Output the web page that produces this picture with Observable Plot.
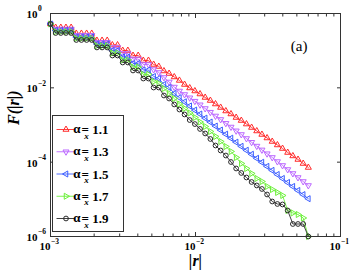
<!DOCTYPE html>
<html><head><meta charset="utf-8">
<script src="https://cdn.jsdelivr.net/npm/d3@7"></script>
<script src="https://cdn.jsdelivr.net/npm/@observablehq/plot@0.6"></script>
<style>body{margin:0;background:#fff;} #chart{position:relative;width:354px;height:275px;}</style>
</head><body><div id="chart"></div>
<script>
// |r| grid
const r = [0.001000,0.001085,0.001178,0.001278,0.001388,0.001506,0.001634,0.001774,0.001925,0.002090,
0.002268,0.002461,0.002671,0.002899,0.003147,0.003415,0.003707,0.004023,0.004366,0.004739,
0.005143,0.005582,0.006059,0.006576,0.007137,0.007746,0.008407,0.009124,0.009903,0.01075,
0.01166,0.01266,0.01374,0.01491,0.01619,0.01757,0.01907,0.02069,0.02246,0.02437,
0.02646,0.02871,0.03116,0.03382,0.03671,0.03984,0.04324,0.04693,0.05093,0.05528,0.06000];
// F(|r|) for each alpha_x
const F11 = [0.522,0.420,0.420,0.420,0.420,0.290,0.290,0.290,0.290,0.188,0.188,0.188,0.142,0.142,0.101,0.101,0.0741,0.0741,0.0544,0.0544,
0.0425,0.0375,0.0284,0.0243,0.0196,0.0158,0.0123,0.00991,0.00822,0.00682,0.00550,0.00456,0.00367,0.00296,0.00238,0.00198,0.00159,0.00132,0.00106,8.57e-4,
6.90e-4,5.56e-4,4.47e-4,3.60e-4,2.90e-4,2.33e-4,1.82e-4,1.47e-4,1.18e-4,9.20e-5,7.19e-5];
const F13 = [0.522,0.383,0.383,0.383,0.383,0.259,0.259,0.259,0.259,0.168,0.168,0.168,0.122,0.122,0.0839,0.0839,0.0597,0.0597,0.0425,0.0425,
0.0311,0.0259,0.0190,0.0144,0.0105,0.00822,0.00662,0.00540,0.00438,0.00350,0.00278,0.00221,0.00175,0.00141,0.00111,8.83e-4,6.98e-4,5.56e-4,4.34e-4,3.43e-4,
2.71e-4,2.14e-4,1.69e-4,1.34e-4,1.04e-4,8.15e-5,6.35e-5,4.96e-5,3.87e-5,3.02e-5,2.36e-5];
const F15 = [0.522,0.349,0.349,0.349,0.349,0.233,0.233,0.233,0.233,0.151,0.151,0.151,0.101,0.101,0.0676,0.0676,0.0452,0.0452,0.0302,0.0302,
0.0202,0.0178,0.0123,0.0102,0.00705,0.00543,0.00421,0.00325,0.00252,0.00197,0.00153,0.00120,9.35e-4,7.30e-4,5.66e-4,4.42e-4,3.45e-4,2.67e-4,2.09e-4,1.63e-4,
1.27e-4,9.93e-5,7.70e-5,6.01e-5,4.66e-5,3.64e-5,2.84e-5,2.22e-5,1.73e-5,1.34e-5,1.04e-5];
const F17 = [0.522,0.322,0.322,0.322,0.322,0.213,0.213,0.213,0.213,0.135,0.135,0.135,0.0865,0.0865,0.0561,0.0561,0.0364,0.0364,0.0229,0.0229,
0.0148,0.0131,0.00959,0.00705,0.00516,0.00367,0.00278,0.00210,0.00159,0.00120,9.12e-4,6.69e-4,4.91e-4,3.60e-4,2.64e-4,1.94e-4,1.34e-4,9.20e-5,6.76e-5,4.96e-5,
3.64e-5,3.02e-5,2.22e-5,1.84e-5,1.53e-5,1.27e-5,5.01e-6,4.30e-6,3.91e-6,3.15e-6,1.0e-6];
const F19 = [0.522,0.299,0.299,0.299,0.299,0.194,0.194,0.194,0.194,0.122,0.122,0.122,0.0741,0.0741,0.0481,0.0481,0.0293,0.0293,0.0178,0.0178,
0.0102,0.0102,0.00622,0.00516,0.00357,0.00261,0.00192,0.00136,0.00106,7.82e-4,5.92e-4,4.21e-4,2.81e-4,2.06e-4,1.51e-4,1.01e-4,6.76e-5,5.12e-5,3.87e-5,2.93e-5,
2.36e-5,1.90e-5,1.35e-5,8.75e-6,7.50e-6,7.28e-6,5.01e-6,2.17e-6,2.17e-6,2.17e-6,1.0e-6];

const alphaLabels = ["1.1","1.3","1.5","1.7","1.9"];
const seriesValues = [F11, F13, F15, F17, F19];
const seriesColors = ["#ff2a2a","#bb66ff","#3a5cff","#6cf03a","#2a2a2a"];
const xMajor = [1e-3, 1e-2, 1e-1];
const xExp = ["\u22123","\u22122","\u22121"];
const xMinor = [2e-3,3e-3,4e-3,5e-3,6e-3,7e-3,8e-3,9e-3,2e-2,3e-2,4e-2,5e-2,6e-2,7e-2,8e-2,9e-2];
const yMajor = [1, 1e-2, 1e-4, 1e-6];
const yExp = ["0","\u22122","\u22124","\u22126"];

// marker shapes
const h = 0.866;
const mk = (pts) => ({draw(ctx, size){ const s = Math.sqrt(size/Math.PI)*1.25; ctx.moveTo(pts[0][0]*s, pts[0][1]*s); for (let i=1;i<pts.length;i++) ctx.lineTo(pts[i][0]*s, pts[i][1]*s); ctx.closePath(); }});
const symUp = mk([[0,-1],[h,0.5],[-h,0.5]]);
const symDown = mk([[0,1],[h,-0.5],[-h,-0.5]]);
const symLeft = mk([[-1,0],[0.5,-h],[0.5,h]]);
const symRight = mk([[1,0],[-0.5,-h],[-0.5,h]]);
const symCircle = {draw(ctx,size){ const s=Math.sqrt(size/Math.PI)*0.85; ctx.moveTo(s,0); ctx.arc(0,0,s,0,2*Math.PI); }};
const symbols = [symUp, symDown, symLeft, symRight, symCircle];
const markR = 2.8;

const table = [];
seriesValues.forEach((vals, i) => vals.forEach((v, k) => table.push({r: r[k], F: v, s: i})));

const serif = "'Liberation Serif', 'Times New Roman', serif";
const marks = [];
seriesValues.forEach((vals, i) => {
  const d = table.filter(t => t.s === i);
  marks.push(Plot.line(d, {x: "r", y: "F", stroke: seriesColors[i], strokeWidth: 0.9}));
  marks.push(Plot.dot(d, {x: "r", y: "F", stroke: seriesColors[i], symbol: symbols[i], r: markR, strokeWidth: 1, fill: "none"}));
});

const chart = Plot.plot({
  width: 354, height: 275,
  marginLeft: 50, marginRight: 14, marginTop: 13, marginBottom: 39,
  x: {type: "log", domain: [1e-3, 1e-1]},
  y: {type: "log", domain: [1e-6, 1]},
  style: {fontFamily: serif, background: "white", overflow: "visible"},
  marks: [
    Plot.axisX({anchor: "bottom", ticks: xMajor, tickSize: -4, tickFormat: () => "", label: null, stroke: "#333"}),
    Plot.axisX({anchor: "bottom", ticks: xMinor, tickSize: -2.5, tickFormat: () => "", label: null, stroke: "#333"}),
    Plot.axisX({anchor: "top", ticks: xMajor, tickSize: -4, tickFormat: () => "", label: null, stroke: "#333"}),
    Plot.axisX({anchor: "top", ticks: xMinor, tickSize: -2.5, tickFormat: () => "", label: null, stroke: "#333"}),
    Plot.axisY({anchor: "left", ticks: yMajor, tickSize: -4, tickFormat: () => "", label: null, stroke: "#333"}),
    Plot.axisY({anchor: "right", ticks: yMajor, tickSize: -4, tickFormat: () => "", label: null, stroke: "#333"}),
    ...marks,
    Plot.frame({stroke: "#333", strokeWidth: 1}),
    // y tick labels
    Plot.text(yMajor, {y: d => d, frameAnchor: "left", dx: -13, dy: 1, text: () => "10", textAnchor: "end", fontSize: 11, fontWeight: "bold", fill: "#000"}),
    Plot.text(yMajor, {y: d => d, frameAnchor: "left", dx: -12.5, dy: -4.5, text: (d, i) => yExp[i], textAnchor: "start", fontSize: 7.5, fontWeight: "bold", fill: "#000"}),
    // x tick labels
    Plot.text(xMajor, {x: d => d, frameAnchor: "bottom", dy: 13, text: () => "10", textAnchor: "end", fontSize: 11, fontWeight: "bold", fill: "#000"}),
    Plot.text(xMajor, {x: d => d, frameAnchor: "bottom", dy: 7.5, dx: 0.5, text: (d, i) => xExp[i], textAnchor: "start", fontSize: 7.5, fontWeight: "bold", fill: "#000"}),
    // axis titles
    Plot.text(["|r|"], {frameAnchor: "bottom", dy: 29, text: d => d, fontSize: 16, fontWeight: "bold", fontStyle: "italic", fill: "#000"}),
    Plot.text(["F(|r|)"], {frameAnchor: "left", dx: -37, rotate: -90, text: d => d, fontSize: 16, fontWeight: "bold", fontStyle: "italic", fill: "#000"}),
    Plot.text(["(a)"], {frameAnchor: "top-right", dx: -33, dy: 27, text: d => d, fontSize: 15, fill: "#000"})
  ]
});
document.getElementById("chart").appendChild(chart);

// legend box inside the frame
const svg = d3.select(chart);
const lg = svg.append("g").attr("transform", "translate(52.5,115.5)");
lg.append("rect").attr("width", 71).attr("height", 116).attr("fill", "white").attr("stroke", "#333").attr("stroke-width", 1);
alphaLabels.forEach((lab, i) => {
  const y = 14 + i * 22.25;
  const g = lg.append("g").attr("transform", `translate(0,${y})`);
  g.append("line").attr("x1", 4).attr("x2", 22.5).attr("y1", 0).attr("y2", 0).attr("stroke", seriesColors[i]).attr("stroke-width", 0.9);
  g.append("path").attr("transform", "translate(13.5,0)").attr("d", d3.symbol(symbols[i], Math.PI * markR * markR)()).attr("fill", "none").attr("stroke", seriesColors[i]).attr("stroke-width", 1);
  g.append("text").attr("x", 24.5).attr("y", 3.5).attr("font-family", serif).attr("font-size", 13).attr("font-weight", "bold").attr("fill", "#000").text("\u03b1");
  g.append("text").attr("x", 34).attr("y", 9).attr("font-family", serif).attr("font-size", 9).attr("font-weight", "bold").attr("font-style", "italic").attr("fill", "#000").text("x");
  g.append("text").attr("x", 42.5).attr("y", 4.5).attr("font-family", serif).attr("font-size", 13).attr("font-weight", "bold").attr("fill", "#000").text("= " + lab);
});
</script></body></html>
